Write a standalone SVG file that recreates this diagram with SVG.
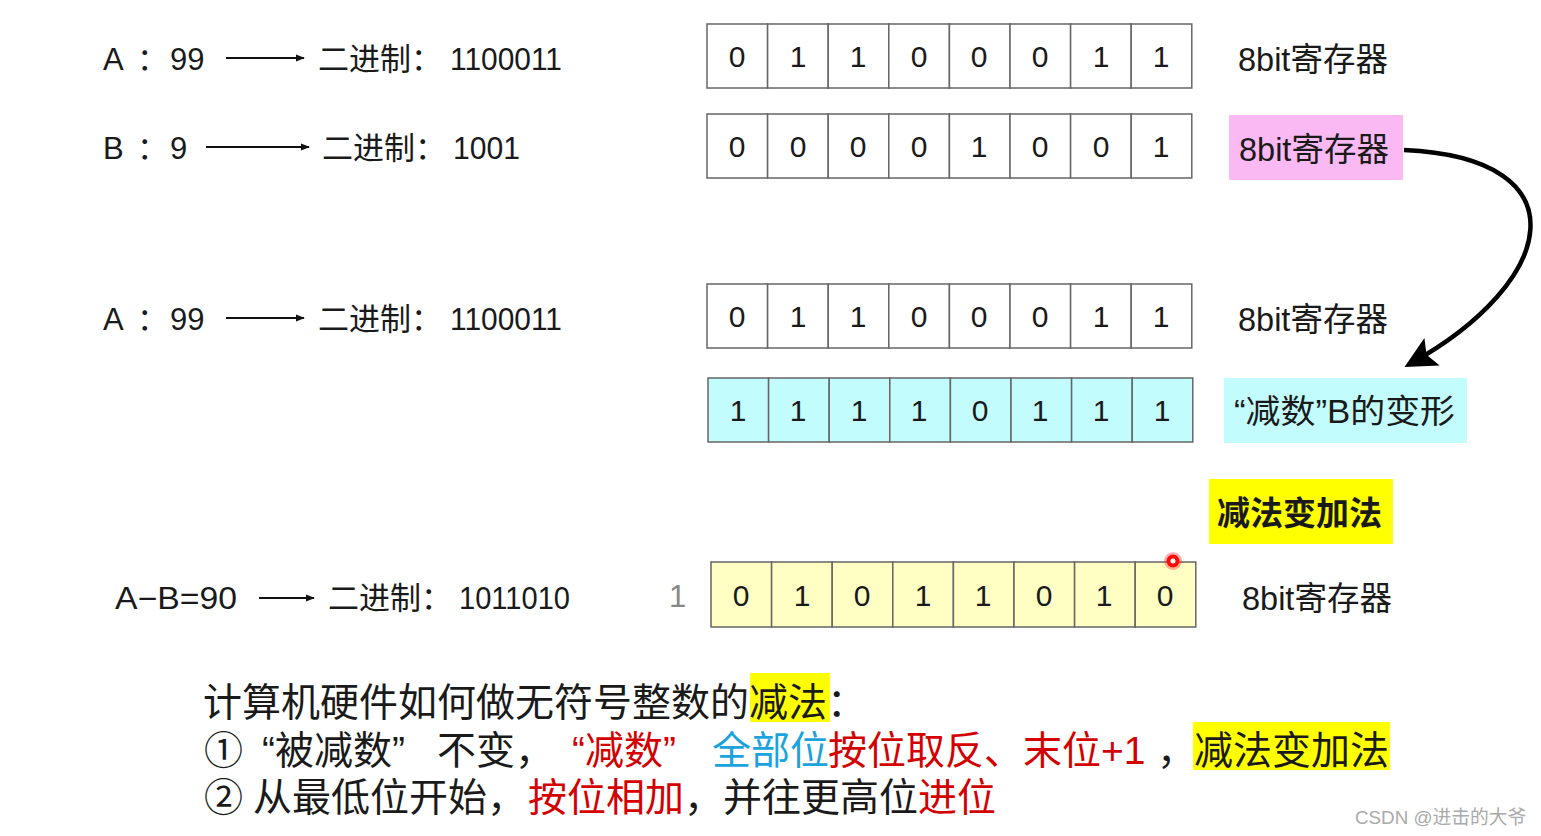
<svg xmlns="http://www.w3.org/2000/svg" width="1541" height="836" viewBox="0 0 1541 836">
<defs>
<style>
text{font-family:"Liberation Sans","Noto Sans CJK SC",sans-serif;fill:#1a1a1a}
.lab{font-size:31px}
.reg{font-size:32.5px}
.d{font-size:30px;text-anchor:middle}
.cell{stroke:#666;stroke-width:1.5}
.w{fill:#fff}.c{fill:#c3fcfc}.y{fill:#ffffc4}
.big{font-size:39px}
.red{fill:#d40000}.blue{fill:#1aa3dc}
</style>
<marker id="ah" viewBox="0 0 10 10" refX="9" refY="5" markerWidth="9" markerHeight="9" markerUnits="userSpaceOnUse" orient="auto"><path d="M0,1 L10,5 L0,9 z" fill="#111"/></marker>
<marker id="ah2" viewBox="0 0 10 10" refX="8" refY="5" markerWidth="7" markerHeight="7" orient="auto"><path d="M0,0 L10,5 L0,10 L2,5 z" fill="#000"/></marker>
</defs>
<rect width="1541" height="836" fill="#fff"/>

<g id="connectors">
<line x1="226" y1="58" x2="304" y2="58" stroke="#111" stroke-width="2" marker-end="url(#ah)"/>
<line x1="206" y1="147" x2="309" y2="147" stroke="#111" stroke-width="2" marker-end="url(#ah)"/>
<line x1="226" y1="318" x2="304" y2="318" stroke="#111" stroke-width="2" marker-end="url(#ah)"/>
<line x1="259" y1="598" x2="314" y2="598" stroke="#111" stroke-width="2" marker-end="url(#ah)"/>
<path d="M1404,150 C1585,158 1558,282 1410,364" fill="none" stroke="#000" stroke-width="4.5" marker-end="url(#ah2)"/>
</g>

<g id="left-labels">
<text class="lab" y="70"><tspan x="103">A</tspan><tspan x="137">：</tspan><tspan x="170">99</tspan></text>
<text class="lab" x="318" y="70">二进制：</text>
<text class="lab" x="450" y="70" textLength="112" lengthAdjust="spacingAndGlyphs">1100011</text>
<text class="lab" y="159"><tspan x="103">B</tspan><tspan x="137">：</tspan><tspan x="170">9</tspan></text>
<text class="lab" x="322" y="159">二进制：</text>
<text class="lab" x="453" y="159" textLength="67" lengthAdjust="spacingAndGlyphs">1001</text>
<text class="lab" y="330"><tspan x="103">A</tspan><tspan x="137">：</tspan><tspan x="170">99</tspan></text>
<text class="lab" x="318" y="330">二进制：</text>
<text class="lab" x="450" y="330" textLength="112" lengthAdjust="spacingAndGlyphs">1100011</text>
<text class="lab" x="115" y="609" textLength="122" lengthAdjust="spacingAndGlyphs">A−B=90</text>
<text class="lab" x="328" y="609">二进制：</text>
<text class="lab" x="459" y="609" textLength="111" lengthAdjust="spacingAndGlyphs">1011010</text>
<text class="lab" x="669" y="607" style="fill:#888">1</text>
</g>

<g id="reg-a1">
<g class="cell w">
<rect x="707" y="24" width="60.6" height="64"/><rect x="767.6" y="24" width="60.6" height="64"/><rect x="828.2" y="24" width="60.6" height="64"/><rect x="888.8" y="24" width="60.6" height="64"/><rect x="949.4" y="24" width="60.6" height="64"/><rect x="1010" y="24" width="60.6" height="64"/><rect x="1070.6" y="24" width="60.6" height="64"/><rect x="1131.2" y="24" width="60.6" height="64"/>
</g>
<text class="d" y="67"><tspan x="737">0</tspan><tspan x="798">1</tspan><tspan x="858">1</tspan><tspan x="919">0</tspan><tspan x="979">0</tspan><tspan x="1040">0</tspan><tspan x="1101">1</tspan><tspan x="1161">1</tspan></text>
<text class="reg" x="1238" y="71">8bit寄存器</text>
</g>

<g id="reg-b">
<g class="cell w">
<rect x="707" y="114" width="60.6" height="64"/><rect x="767.6" y="114" width="60.6" height="64"/><rect x="828.2" y="114" width="60.6" height="64"/><rect x="888.8" y="114" width="60.6" height="64"/><rect x="949.4" y="114" width="60.6" height="64"/><rect x="1010" y="114" width="60.6" height="64"/><rect x="1070.6" y="114" width="60.6" height="64"/><rect x="1131.2" y="114" width="60.6" height="64"/>
</g>
<text class="d" y="157"><tspan x="737">0</tspan><tspan x="798">0</tspan><tspan x="858">0</tspan><tspan x="919">0</tspan><tspan x="979">1</tspan><tspan x="1040">0</tspan><tspan x="1101">0</tspan><tspan x="1161">1</tspan></text>
<rect x="1229" y="115" width="174" height="65" fill="#fbb9f3"/>
<text class="reg" x="1239" y="161">8bit寄存器</text>
</g>

<g id="reg-a2">
<g class="cell w">
<rect x="707" y="284" width="60.6" height="64"/><rect x="767.6" y="284" width="60.6" height="64"/><rect x="828.2" y="284" width="60.6" height="64"/><rect x="888.8" y="284" width="60.6" height="64"/><rect x="949.4" y="284" width="60.6" height="64"/><rect x="1010" y="284" width="60.6" height="64"/><rect x="1070.6" y="284" width="60.6" height="64"/><rect x="1131.2" y="284" width="60.6" height="64"/>
</g>
<text class="d" y="327"><tspan x="737">0</tspan><tspan x="798">1</tspan><tspan x="858">1</tspan><tspan x="919">0</tspan><tspan x="979">0</tspan><tspan x="1040">0</tspan><tspan x="1101">1</tspan><tspan x="1161">1</tspan></text>
<text class="reg" x="1238" y="331">8bit寄存器</text>
</g>

<g id="reg-bt">
<g class="cell c">
<rect x="708" y="378" width="60.6" height="64"/><rect x="768.6" y="378" width="60.6" height="64"/><rect x="829.2" y="378" width="60.6" height="64"/><rect x="889.8" y="378" width="60.6" height="64"/><rect x="950.4" y="378" width="60.6" height="64"/><rect x="1011" y="378" width="60.6" height="64"/><rect x="1071.6" y="378" width="60.6" height="64"/><rect x="1132.2" y="378" width="60.6" height="64"/>
</g>
<text class="d" y="421"><tspan x="738">1</tspan><tspan x="798">1</tspan><tspan x="859">1</tspan><tspan x="919">1</tspan><tspan x="980">0</tspan><tspan x="1040">1</tspan><tspan x="1101">1</tspan><tspan x="1162">1</tspan></text>
<rect x="1224" y="378" width="243" height="65" fill="#c3fcfc"/>
<text class="reg" x="1234" y="423" textLength="221" lengthAdjust="spacingAndGlyphs">“减数”B的变形</text>
</g>

<g id="sub-to-add">
<rect x="1209" y="479" width="184" height="65" fill="#ffff00"/>
<text x="1217" y="525" style="font-size:33px;font-weight:bold;font-family:'Noto Sans CJK SC',sans-serif">减法变加法</text>
</g>

<g id="reg-res">
<g class="cell y">
<rect x="711" y="562" width="60.6" height="65"/><rect x="771.6" y="562" width="60.6" height="65"/><rect x="832.2" y="562" width="60.6" height="65"/><rect x="892.8" y="562" width="60.6" height="65"/><rect x="953.4" y="562" width="60.6" height="65"/><rect x="1014" y="562" width="60.6" height="65"/><rect x="1074.6" y="562" width="60.6" height="65"/><rect x="1135.2" y="562" width="60.6" height="65"/>
</g>
<text class="d" y="606"><tspan x="741">0</tspan><tspan x="802">1</tspan><tspan x="862">0</tspan><tspan x="923">1</tspan><tspan x="983">1</tspan><tspan x="1044">0</tspan><tspan x="1104">1</tspan><tspan x="1165">0</tspan></text>
<text class="reg" x="1242" y="610">8bit寄存器</text>
<circle cx="1173" cy="561" r="9" fill="#ff2020" opacity="0.35"/>
<circle cx="1173" cy="561" r="6.5" fill="#ff0a0a"/>
<circle cx="1173" cy="561" r="2.5" fill="#fff"/>
</g>

<g id="notes">
<rect x="750" y="673" width="80" height="49" fill="#ffff00"/>
<rect x="1193" y="722" width="197" height="48" fill="#ffff00"/>
<text class="big" x="203" y="716">计算机硬件如何做无符号整数的减法：</text>
<text class="big" y="764"><tspan x="204">①</tspan><tspan x="262">“被减数”</tspan><tspan x="437">不变，</tspan><tspan x="572" class="red">“减数”</tspan><tspan x="712" class="blue">全部位</tspan><tspan x="828" class="red">按位取反、末位+1</tspan><tspan x="1157">，</tspan><tspan x="1194">减法变加法</tspan></text>
<text class="big" y="811"><tspan x="204">②</tspan><tspan x="253">从最低位开始，</tspan><tspan x="528" class="red">按位相加</tspan><tspan x="684">，并往更高位</tspan><tspan x="918" class="red">进位</tspan></text>
<text x="1355" y="824" style="font-size:18.8px;fill:#aaa">CSDN @进击的大爷</text>
</g>
</svg>
